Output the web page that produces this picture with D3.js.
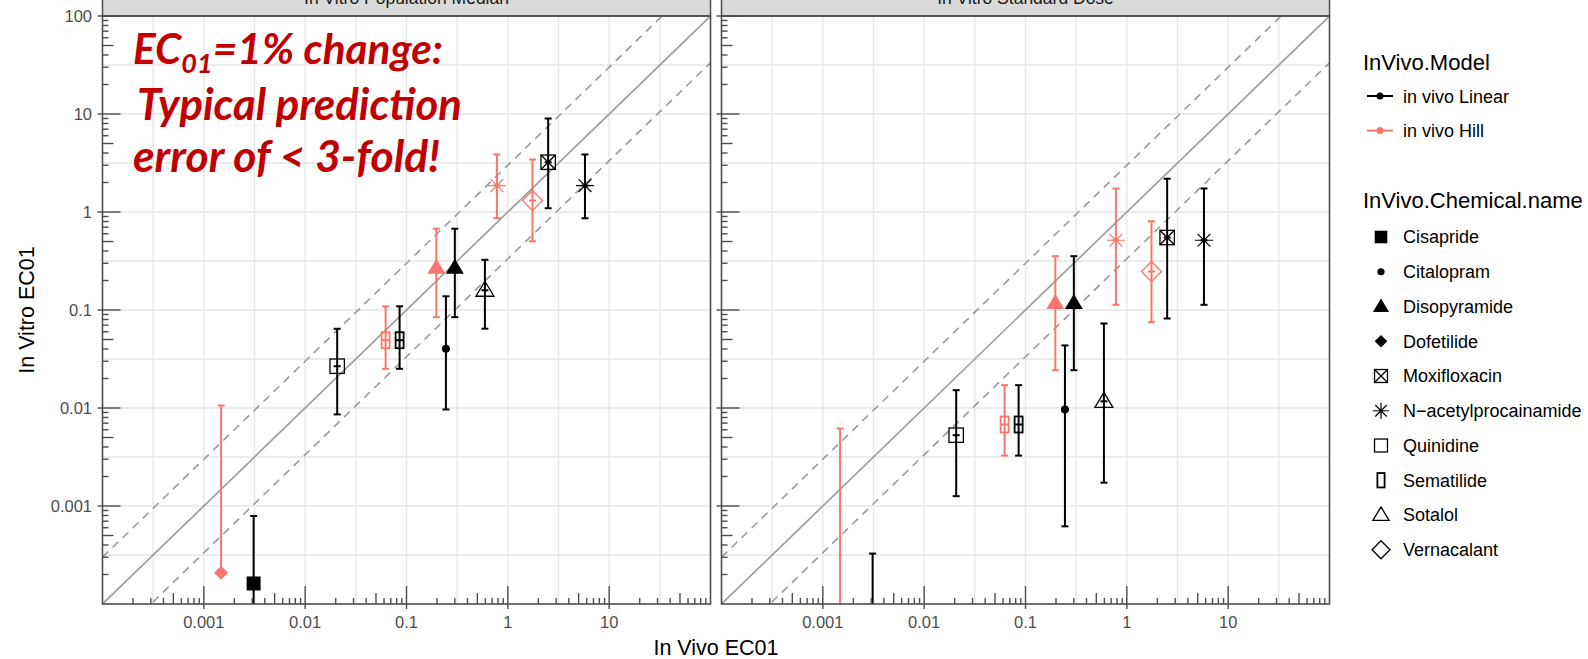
<!DOCTYPE html>
<html><head><meta charset="utf-8">
<script src="https://cdn.jsdelivr.net/npm/d3@7"></script>
<style>body{margin:0;background:#fff} svg{display:block}</style>
</head><body>
<svg id="c" width="1588" height="659"></svg>
<script>
// ---------------- DATA ----------------
const panels = ["In Vitro Population Median", "In Vitro Standard Dose"];
const models = ["in vivo Linear", "in vivo Hill"];
const modelColors = ["#000000", "#F8766D"];
const chemicals = ["Cisapride", "Citalopram", "Disopyramide", "Dofetilide", "Moxifloxacin",
  "N\u2212acetylprocainamide", "Quinidine", "Sematilide", "Sotalol", "Vernacalant"];
const chemShapes = ["sqFill", "dot", "triFill", "diaFill", "sqX", "star", "sqOpen", "rectNarrow", "triOpen", "diaOpen"];

// one entry per plotted point
const ptChem = ["Cisapride", "Citalopram", "Disopyramide", "Disopyramide", "Dofetilide", "Moxifloxacin",
  "N\u2212acetylprocainamide", "N\u2212acetylprocainamide", "Quinidine", "Sematilide", "Sematilide", "Sotalol", "Vernacalant"];
const ptModel = ["in vivo Linear", "in vivo Linear", "in vivo Hill", "in vivo Linear", "in vivo Hill", "in vivo Linear",
  "in vivo Hill", "in vivo Linear", "in vivo Linear", "in vivo Hill", "in vivo Linear", "in vivo Linear", "in vivo Hill"];
const inVivoEC01 = [0.0031, 0.245, 0.197, 0.30, 0.00148, 2.5, 0.78, 5.77, 0.0207, 0.0622, 0.0855, 0.594, 1.75];

// In Vitro Population Median panel
const medianEC01 = [1.62e-4, 0.0402, 0.27, 0.27, 2.08e-4, 3.22, 1.86, 1.86, 0.0267, 0.0492, 0.0492, 0.159, 1.31];
const medianLo   = [1e-5, 0.00966, 0.0845, 0.0845, 2.08e-4, 1.09, 0.865, 0.865, 0.0086, 0.0251, 0.0251, 0.0645, 0.504];
const medianHi   = [7.9e-4, 0.138, 0.674, 0.674, 0.0106, 9.0, 3.86, 3.86, 0.0643, 0.109, 0.109, 0.325, 3.43];

// In Vitro Standard Dose panel
const standardEC01 = [1e-5, 0.00966, 0.118, 0.118, 1e-5, 0.549, 0.515, 0.515, 0.00528, 0.00679, 0.00679, 0.0117, 0.247];
const standardLo   = [1e-6, 6.2e-4, 0.0243, 0.0243, 1e-6, 0.0819, 0.113, 0.113, 0.00126, 0.00327, 0.00327, 0.00173, 0.0751];
const standardHi   = [3.27e-4, 0.0435, 0.354, 0.354, 0.00618, 2.18, 1.74, 1.74, 0.0152, 0.0171, 0.0171, 0.0728, 0.805];

const xTickValues = [0.001, 0.01, 0.1, 1, 10];
const xTickLabels = ["0.001", "0.01", "0.1", "1", "10"];
const yTickValues = [0.001, 0.01, 0.1, 1, 10, 100];
const yTickLabels = ["0.001", "0.01", "0.1", "1", "10", "100"];
const foldLines = [1, 3, 1 / 3];

// ---------------- LAYOUT ----------------
const FONT = "'Liberation Sans', Arial, sans-serif";
const svg = d3.select("#c");
const defs = svg.append("defs");
const panelX = [[102.5, 710.5], [721.5, 1329.5]];
const yTop = 16, yBot = 604;
const xScales = panelX.map(r => d3.scaleLog().domain([1e-4, 100]).range(r));
const y = d3.scaleLog().domain([1e-4, 100]).range([yBot, yTop]);
const panelData = [
  {mid: medianEC01, lo: medianLo, hi: medianHi},
  {mid: standardEC01, lo: standardLo, hi: standardHi}
];

function drawShape(g, shape, cx, cy, color, s) {
  s = s || 1;
  const sw = 1.3;
  if (shape === "sqFill") {
    g.append("rect").attr("x", cx - 7 * s).attr("y", cy - 7 * s).attr("width", 14 * s).attr("height", 14 * s).attr("fill", color);
  } else if (shape === "dot") {
    g.append("circle").attr("cx", cx).attr("cy", cy).attr("r", 4 * s).attr("fill", color);
  } else if (shape === "triFill" || shape === "triOpen") {
    const p = d3.path();
    p.moveTo(cx, cy - 9 * s); p.lineTo(cx + 9 * s, cy + 6 * s); p.lineTo(cx - 9 * s, cy + 6 * s); p.closePath();
    const e = g.append("path").attr("d", p.toString());
    if (shape === "triFill") e.attr("fill", color);
    else e.attr("fill", "none").attr("stroke", color).attr("stroke-width", sw);
  } else if (shape === "diaFill" || shape === "diaOpen") {
    const h = (shape === "diaFill" ? 7 : 10) * s;
    const p = d3.path();
    p.moveTo(cx, cy - h); p.lineTo(cx + h, cy); p.lineTo(cx, cy + h); p.lineTo(cx - h, cy); p.closePath();
    const e = g.append("path").attr("d", p.toString());
    if (shape === "diaFill") e.attr("fill", color);
    else e.attr("fill", "none").attr("stroke", color).attr("stroke-width", sw);
  } else if (shape === "sqX" || shape === "sqOpen") {
    const h = 7.2 * s;
    g.append("rect").attr("x", cx - h).attr("y", cy - h).attr("width", 2 * h).attr("height", 2 * h)
      .attr("fill", "none").attr("stroke", color).attr("stroke-width", sw);
    if (shape === "sqX") {
      const p = d3.path();
      p.moveTo(cx - h, cy - h); p.lineTo(cx + h, cy + h); p.moveTo(cx + h, cy - h); p.lineTo(cx - h, cy + h);
      g.append("path").attr("d", p.toString()).attr("stroke", color).attr("stroke-width", sw).attr("fill", "none");
    }
  } else if (shape === "star") {
    const a = 9 * s, b = 6.4 * s;
    const p = d3.path();
    p.moveTo(cx - a, cy); p.lineTo(cx + a, cy);
    p.moveTo(cx, cy - a); p.lineTo(cx, cy + a);
    p.moveTo(cx - b, cy - b); p.lineTo(cx + b, cy + b);
    p.moveTo(cx + b, cy - b); p.lineTo(cx - b, cy + b);
    g.append("path").attr("d", p.toString()).attr("stroke", color).attr("stroke-width", 1.2).attr("fill", "none");
  } else if (shape === "rectNarrow") {
    g.append("rect").attr("x", cx - 4 * s).attr("y", cy - 8 * s).attr("width", 8 * s).attr("height", 16 * s)
      .attr("fill", "none").attr("stroke", color).attr("stroke-width", 1.8);
  }
}

const halfDecades = d3.range(-7, 4).map(k => Math.pow(10, k / 2));
const minorVals = [];
for (let d = -4; d <= 1; d++) for (let m = 2; m <= 9; m++) minorVals.push({v: m * Math.pow(10, d), m: m});

panels.forEach((title, pi) => {
  const x = xScales[pi];
  const [x0, x1] = panelX[pi];
  const g = svg.append("g");
  const clipId = "clip" + pi;
  defs.append("clipPath").attr("id", clipId).append("rect")
    .attr("x", x0).attr("y", yTop).attr("width", x1 - x0).attr("height", yBot - yTop);

  // grid
  g.append("g").selectAll("line").data(halfDecades).join("line")
    .attr("x1", d => x(d)).attr("x2", d => x(d)).attr("y1", yTop).attr("y2", yBot)
    .attr("stroke", "#e6e6e6").attr("stroke-width", 1.4);
  g.append("g").selectAll("line").data(halfDecades).join("line")
    .attr("y1", d => y(d)).attr("y2", d => y(d)).attr("x1", x0).attr("x2", x1)
    .attr("stroke", "#e6e6e6").attr("stroke-width", 1.4);

  // strip (title mostly above the page edge, as in the reference)
  g.append("rect").attr("x", x0).attr("y", -30).attr("width", x1 - x0).attr("height", 30 + yTop)
    .attr("fill", "#d9d9d9").attr("stroke", "#4d4d4d").attr("stroke-width", 1.5);
  g.append("text").attr("x", (x0 + x1) / 2).attr("y", 4).attr("text-anchor", "middle")
    .attr("font-family", FONT).attr("font-size", 17.5).attr("fill", "#1a1a1a").text(title);

  const cg = g.append("g").attr("clip-path", `url(#${clipId})`);
  // identity and 3-fold lines
  foldLines.forEach(f => {
    cg.append("line").attr("x1", x(1e-4)).attr("y1", y(1e-4 * f)).attr("x2", x(100)).attr("y2", y(100 * f))
      .attr("stroke", "#9a9a9a").attr("stroke-width", 1.6)
      .attr("stroke-dasharray", f === 1 ? null : "8,6");
  });

  // points + error bars
  const pd = panelData[pi];
  inVivoEC01.forEach((xv, i) => {
    const color = modelColors[models.indexOf(ptModel[i])];
    const shape = chemShapes[chemicals.indexOf(ptChem[i])];
    const cx = x(xv), cy = y(pd.mid[i]);
    const pg = cg.append("g");
    drawShape(pg, shape, cx, cy, color, 1);
    const yl = y(pd.lo[i]), yh = y(pd.hi[i]);
    pg.append("line").attr("x1", cx).attr("x2", cx).attr("y1", yl).attr("y2", yh)
      .attr("stroke", color).attr("stroke-width", 2);
    [yl, yh].forEach(yy => pg.append("line").attr("x1", cx - 3.5).attr("x2", cx + 3.5).attr("y1", yy).attr("y2", yy)
      .attr("stroke", color).attr("stroke-width", 2));
    pg.append("line").attr("x1", cx - 3.5).attr("x2", cx + 3.5).attr("y1", cy).attr("y2", cy)
      .attr("stroke", color).attr("stroke-width", 2);
  });

  // frame
  g.append("rect").attr("x", x0).attr("y", yTop).attr("width", x1 - x0).attr("height", yBot - yTop)
    .attr("fill", "none").attr("stroke", "#4d4d4d").attr("stroke-width", 1.6);

  // ticks (inside)
  const tk = g.append("g").attr("stroke", "#4d4d4d").attr("stroke-width", 1.4);
  minorVals.forEach(o => {
    const len = o.m === 5 ? 11 : 6;
    const xx = x(o.v);
    if (xx > x0 && xx < x1) tk.append("line").attr("x1", xx).attr("x2", xx).attr("y1", yBot).attr("y2", yBot - len);
    const yy = y(o.v);
    if (yy > yTop && yy < yBot) tk.append("line").attr("y1", yy).attr("y2", yy).attr("x1", x0).attr("x2", x0 + len);
  });
  xTickValues.forEach(v => tk.append("line").attr("x1", x(v)).attr("x2", x(v)).attr("y1", yBot + 5).attr("y2", yBot - 18));
  yTickValues.forEach(v => tk.append("line").attr("y1", y(v)).attr("y2", y(v)).attr("x1", x0 - 5).attr("x2", x0 + 18));

  // x tick labels
  g.append("g").selectAll("text").data(xTickValues).join("text")
    .attr("x", d => x(d)).attr("y", 628).attr("text-anchor", "middle")
    .attr("font-family", FONT).attr("font-size", 16.5).attr("fill", "#4d4d4d")
    .text((d, i) => xTickLabels[i]);

  if (pi === 0) {
    g.append("g").selectAll("text").data(yTickValues).join("text")
      .attr("x", 92).attr("y", d => y(d)).attr("dy", "0.36em").attr("text-anchor", "end")
      .attr("font-family", FONT).attr("font-size", 16.5).attr("fill", "#4d4d4d")
      .text((d, i) => yTickLabels[i]);

    // annotation
    const ann = g.append("g").attr("font-family", "Lato, 'Open Sans', sans-serif").attr("font-weight", "bold")
      .attr("font-style", "italic").attr("fill", "#c00000");
    const l1 = ann.append("text").attr("x", 133).attr("y", 63.5).attr("font-size", 38);
    l1.append("tspan").text("EC");
    l1.append("tspan").attr("font-size", "0.64em").attr("dy", "0.36em").text("01");
    l1.append("tspan").attr("dy", "-0.23em").text("=1% change:");
    const l2 = ann.append("text").attr("x", 137).attr("y", 120).attr("font-size", 38).text("Typical prediction");
    const l3 = ann.append("text").attr("x", 133).attr("y", 172).attr("font-size", 38).text("error of < 3-fold!");
    [[l1, 310], [l2, 325], [l3, 307]].forEach(([t, w]) => {
      const bw = t.node().getBBox().width;
      t.attr("font-size", 38 * w / bw);
    });
  }
});

// axis titles
svg.append("text").attr("x", 716).attr("y", 655).attr("text-anchor", "middle")
  .attr("font-family", FONT).attr("font-size", 21.5).attr("fill", "#000").text("In Vivo EC01");
svg.append("text").attr("transform", "translate(33.5,310) rotate(-90)").attr("text-anchor", "middle")
  .attr("font-family", FONT).attr("font-size", 21.5).attr("fill", "#000").text("In Vitro EC01");

// legend
const lg = svg.append("g").attr("font-family", FONT).attr("fill", "#000");
lg.append("text").attr("x", 1363).attr("y", 70).attr("font-size", 22).text("InVivo.Model");
const modelBase = [102.7, 137.3];
models.forEach((m, i) => {
  const yy = modelBase[i] - 6.7;
  lg.append("line").attr("x1", 1367).attr("x2", 1393).attr("y1", yy).attr("y2", yy)
    .attr("stroke", modelColors[i]).attr("stroke-width", 2);
  lg.append("circle").attr("cx", 1380).attr("cy", yy).attr("r", 3.5).attr("fill", modelColors[i]);
  lg.append("text").attr("x", 1403).attr("y", modelBase[i]).attr("font-size", 18).text(m);
});
lg.append("text").attr("x", 1363).attr("y", 208.3).attr("font-size", 22).text("InVivo.Chemical.name");
chemicals.forEach((c, i) => {
  const base = 243.3 + i * 34.75;
  drawShape(lg.append("g"), chemShapes[i], 1381, base - 6.3, "#000", 0.9);
  lg.append("text").attr("x", 1403).attr("y", base).attr("font-size", 18).text(c);
});
</script>
</body></html>
